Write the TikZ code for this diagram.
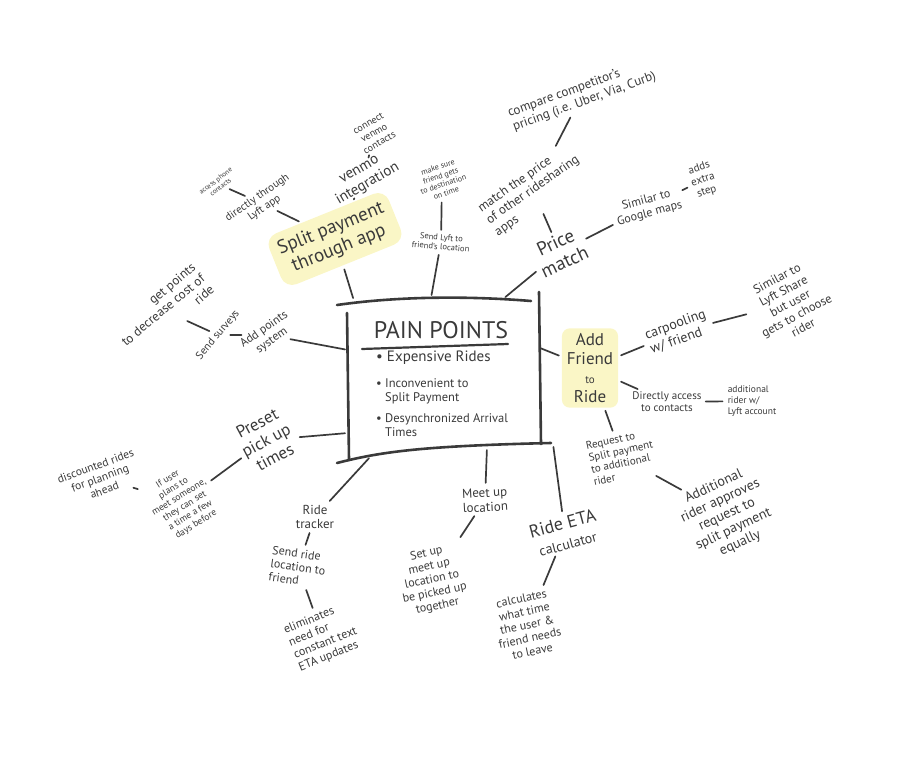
\documentclass[tikz,border=0pt]{standalone}
\usepackage{fontspec}
\setmainfont{PT Sans}
\definecolor{ink}{HTML}{3A3A3A}
\definecolor{hilite}{HTML}{FAF6C6}
\begin{document}
\begin{tikzpicture}[x=1pt, y=-1pt, line join=round, line cap=round,
	lbl/.style={text=ink, align=center, inner sep=1pt},
	fz/.style={font=\fontsize{#1}{\fpeval{1.12*#1}}\selectfont},
	hl/.style={fill=hilite, rounded corners=12pt, inner sep=8pt},
	link/.style={draw=ink, line width=1.7pt, shorten <=4pt, shorten >=3pt},
	frame/.style={draw=ink, line width=2.6pt}]
	\useasboundingbox (0,0) rectangle (907,776);
	%Khung trung tam
	\node[minimum width=193, minimum height=150] (pain) at (443,373) {};
	\draw[frame] (337,305) .. controls (400,296) and (470,296) .. (531,301);
	\draw[frame] (347,313) -- (349,460);
	\draw[frame] (539,292) -- (541,444);
	\draw[frame] (337,463) .. controls (380,452) and (420,446) .. (551,443);
	\node[lbl, fz=24] (title) at (441,330) {PAIN POINTS};
	\draw[frame, line width=2.2pt] (362,349) -- (508,344);
	\node[lbl, fz=15, anchor=west] (b1) at (375,358) {• Expensive Rides};
	\node[lbl, fz=12.5, anchor=west, align=left] (b2) at (375,391) {• Inconvenient to\\\phantom{• }Split Payment};
	\node[lbl, fz=12.5, anchor=west, align=left] (b3) at (375,425) {• Desynchronized Arrival\\\phantom{• }Times};
	%Cac diem noi tren khung
	\coordinate (t1) at (354,301);
	\coordinate (t2) at (431,298);
	\coordinate (t3) at (503,299);
	\coordinate (r1) at (540,348);
	\coordinate (l1) at (348,350);
	\coordinate (l2) at (348,433);
	\coordinate (d1) at (371,456);
	\coordinate (d2) at (487,447);
	\coordinate (d3) at (553,444);
	%Nhanh tren
	\node[lbl, hl, fz=19, rotate=22] (split) at (335,239) {Split payment\\through app};
	\node[lbl, fz=15, rotate=30] (venmo) at (364,178) {venmo\\integration};
	\node[lbl, fz=10, rotate=30] (connect) at (374,133) {connect\\venmo\\contacts};
	\node[lbl, fz=11, rotate=35] (direct) at (261,203) {directly through\\Lyft app};
	\node[lbl, fz=7, rotate=38] (access) at (218,184) {access phone\\contacts};
	\node[lbl, fz=8, rotate=18] (makesure) at (442,180) {make sure\\friend gets\\to destination\\on time};
	\node[lbl, fz=8.5, rotate=-5] (sendlyft) at (441,242) {Send Lyft to\\friend's location};
	\node[lbl, fz=19, rotate=25] (price) at (560,252) {Price\\match};
	\node[lbl, fz=13, rotate=35, align=left] (matchp) at (533,190) {match the price\\of other ridesharing\\apps};
	\node[lbl, fz=13, rotate=20, align=left] (compare) at (582,95) {compare competitor's\\pricing (i.e. Uber, Via, Curb)};
	\node[lbl, fz=12, rotate=15] (similar) at (648,207) {Similar to\\Google maps};
	\node[lbl, fz=11, rotate=18] (adds) at (703,180) {adds\\extra\\step};
	%Nhanh phai
	\node[lbl, hl, fz=17, rounded corners=8pt, inner sep=5pt] (addf) at (590,368) {Add\\Friend\\{\fontsize{11}{12}\selectfont to}\\Ride};
	\node[lbl, fz=14, rotate=20, align=left] (carpool) at (678,332) {carpooling\\w/ friend};
	\node[lbl, fz=12.5, rotate=28] (share) at (790,303) {Similar to\\Lyft Share\\but user\\gets to choose\\rider};
	\node[lbl, fz=11] (daccess) at (667,402) {Directly access\\to contacts};
	\node[lbl, fz=9.5, align=left] (extra) at (752,401) {additional\\rider w/\\Lyft account};
	\node[lbl, fz=11, rotate=12, align=left] (request) at (622,457) {Request to\\Split payment\\to additional\\rider};
	\node[lbl, fz=14, rotate=25] (approve) at (727,515) {Additional\\rider approves\\request to\\split payment\\equally};
	%Nhanh duoi
	\node[lbl, fz=18, rotate=15] (eta) at (565,533) {Ride ETA\\{\fontsize{14}{15}\selectfont calculator}};
	\node[lbl, fz=12, rotate=12] (calc) at (527,625) {calculates\\what time\\the user \&\\friend needs\\to leave};
	\node[lbl, fz=13, rotate=3] (meet) at (485,500) {Meet up\\location};
	\node[lbl, fz=12, rotate=12] (setup) at (432,580) {Set up\\meet up\\location to\\be picked up\\together};
	\node[lbl, fz=13] (tracker) at (315,517) {Ride\\tracker};
	\node[lbl, fz=12, rotate=-8, align=left] (sendride) at (298,567) {Send ride\\location to\\friend};
	\node[lbl, fz=12, rotate=22, align=left] (elim) at (323,637) {eliminates\\need for\\constant text\\ETA updates};
	%Nhanh trai
	\node[lbl, fz=17, rotate=28] (preset) at (266,440) {Preset\\pick up\\times};
	\node[lbl, fz=9.5, rotate=32] (ifuser) at (182,502) {If user\\plans to\\meet someone,\\they can set\\a time a few\\days before};
	\node[lbl, fz=11.5, rotate=20] (discount) at (100,478) {discounted rides\\for planning\\ahead};
	\node[lbl, fz=12, rotate=35] (points) at (268,335) {Add points\\system};
	\node[lbl, fz=11, rotate=50] (surveys) at (218,335) {Send surveys};
	\node[lbl, fz=13, rotate=40, align=right] (getpts) at (163,310) {get points\\to decrease cost of\\ride};
	%Cac duong noi
	\foreach \a/\b in {split/t1, venmo/split, connect/venmo, direct/split, access/direct,
		makesure/sendlyft, sendlyft/t2, price/t3, matchp/price, compare/matchp, similar/price, adds/similar,
		carpool/addf, share/carpool, daccess/addf, extra/daccess, request/addf, approve/request,
		eta/d3, calc/eta, meet/d2, setup/meet, tracker/d1, sendride/tracker, elim/sendride,
		preset/l2, ifuser/preset, discount/ifuser, points/l1, surveys/points, getpts/surveys}
	\draw[link] (\a) -- (\b);
	\draw[link, shorten <=0pt] (r1) -- (addf);
\end{tikzpicture}
\end{document}
